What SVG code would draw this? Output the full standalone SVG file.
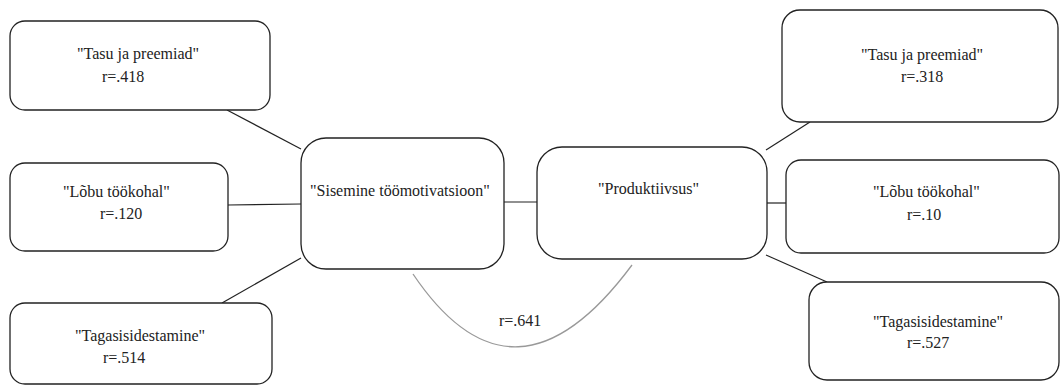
<svg xmlns="http://www.w3.org/2000/svg" width="1061" height="387" viewBox="0 0 1061 387">
<style>
.box{fill:#fff;stroke:#222;stroke-width:1.3}
.t{font-family:"Liberation Serif","Times New Roman",serif;font-size:16px;fill:#222}
.c{stroke:#222;stroke-width:1.2;fill:none}
.arc{stroke:#999;stroke-width:1.3;fill:none}
</style>
<rect width="1061" height="387" fill="#fff"/>
<g id="connectors">
<line class="c" x1="227" y1="110" x2="301" y2="149"/>
<line class="c" x1="228" y1="205" x2="301" y2="204"/>
<line class="c" x1="222" y1="303" x2="301" y2="258"/>
<line class="c" x1="504" y1="202" x2="537" y2="202"/>
<line class="c" x1="766" y1="150" x2="810" y2="122"/>
<line class="c" x1="767" y1="203" x2="786" y2="203"/>
<line class="c" x1="766" y1="255" x2="827" y2="282"/>
<path class="arc" d="M413,274 Q514,424 632,265"/>
<text class="t" x="499" y="326">r=.641</text>
</g>
<g id="n-tasu-left">
<rect class="box" x="10" y="21" width="260" height="89" rx="15"/>
<text class="t" x="77" y="59">"Tasu ja preemiad"</text>
<text class="t" x="102" y="82">r=.418</text>
</g>
<g id="n-lobu-left">
<rect class="box" x="10" y="163" width="218" height="88" rx="15"/>
<text class="t" x="63" y="197">"Lõbu töökohal"</text>
<text class="t" x="100" y="219">r=.120</text>
</g>
<g id="n-tagasi-left">
<rect class="box" x="10" y="303" width="262" height="81" rx="15"/>
<text class="t" x="75" y="341">"Tagasisidestamine"</text>
<text class="t" x="103" y="363">r=.514</text>
</g>
<g id="n-sisemine">
<rect class="box" x="301" y="138" width="203" height="131" rx="25"/>
<text class="t" x="310" y="196">"Sisemine töömotivatsioon"</text>
</g>
<g id="n-produktiivsus">
<rect class="box" x="537" y="147" width="230" height="112" rx="25"/>
<text class="t" x="598" y="194">"Produktiivsus"</text>
</g>
<g id="n-tasu-right">
<rect class="box" x="782" y="10" width="276" height="112" rx="18"/>
<text class="t" x="861" y="60">"Tasu ja preemiad"</text>
<text class="t" x="901" y="82">r=.318</text>
</g>
<g id="n-lobu-right">
<rect class="box" x="786" y="160" width="273" height="93" rx="15"/>
<text class="t" x="873" y="197">"Lõbu töökohal"</text>
<text class="t" x="907" y="220">r=.10</text>
</g>
<g id="n-tagasi-right">
<rect class="box" x="809" y="282" width="250" height="98" rx="18"/>
<text class="t" x="873" y="327">"Tagasisidestamine"</text>
<text class="t" x="907" y="348">r=.527</text>
</g>
</svg>
